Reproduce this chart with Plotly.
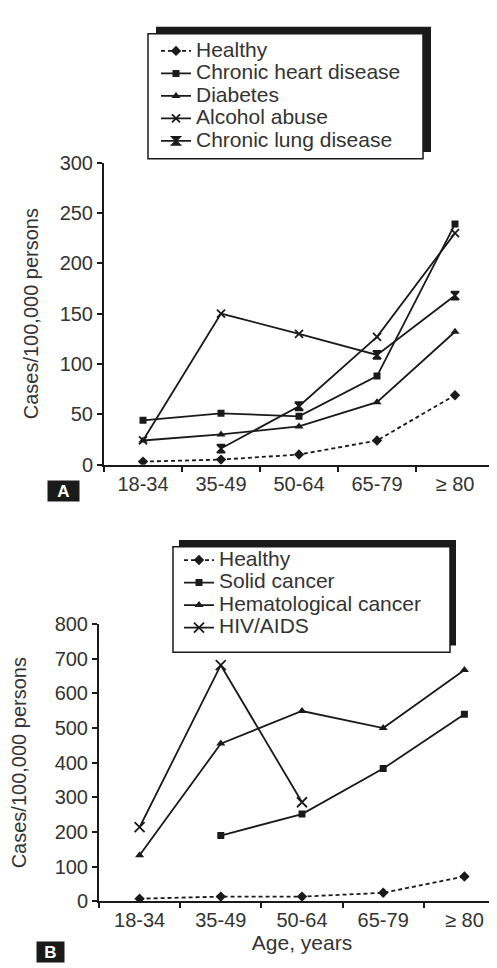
import plotly.graph_objects as go

# ---------------- data ----------------
categories = ["18-34", "35-49", "50-64", "65-79", "\u2265 80"]

# Panel A
healthy_a = [3, 5, 10, 24, 69]
heart_disease = [44, 51, 48, 88, 239]
diabetes = [24, 30, 38, 62, 132]
alcohol_abuse = [24, 150, 130, 109, 168]
lung_disease = [None, 16, 58, 127, 230]

# Panel B
healthy_b = [8, 14, 14, 25, 72]
solid_cancer = [None, 190, 252, 383, 540]
hemato_cancer = [133, 455, 549, 500, 667]
hiv_aids = [214, 681, 286, None, None]

y_ticks_a = [0, 50, 100, 150, 200, 250, 300]
y_ticks_b = [0, 100, 200, 300, 400, 500, 600, 700, 800]

# ---------------- styling ----------------
W, H = 497, 968
FONT = "Liberation Sans, Arial, sans-serif"
TXT = "#333333"
LINE = "#1a1a1a"


def px(x):
    return x / W


def py(y):
    return 1 - y / H


def lab(s):
    return '<span style="font-size:21px">' + s + "</span>"


fig = go.Figure()


def add(x, y, name, symbol, size, xa, ya, leg, dash="solid", lw=1.8, mlw=0):
    fig.add_trace(go.Scatter(
        x=x, y=y, name=lab(name), mode="lines+markers",
        xaxis=xa, yaxis=ya, legend=leg,
        line=dict(color=LINE, width=lw, dash=dash),
        marker=dict(symbol=symbol, size=size, color=LINE,
                    line=dict(color=LINE, width=mlw)),
        connectgaps=False,
    ))


DASH = "4px,3px"
# Panel A traces
add(categories, healthy_a, "Healthy", "diamond", 8, "x", "y", "legend", dash=DASH)
add(categories, heart_disease, "Chronic heart disease", "square", 7, "x", "y", "legend")
add(categories, diabetes, "Diabetes", "triangle-up", 8, "x", "y", "legend")
add(categories, alcohol_abuse, "Alcohol abuse",
    ["x-thin", "x-thin", "x-thin", "hourglass", "hourglass"], 8, "x", "y", "legend", mlw=1.8)
add(categories, lung_disease, "Chronic lung disease",
    ["hourglass", "hourglass", "hourglass", "x-thin", "x-thin"], 8, "x", "y", "legend", mlw=1.8)

# Panel B traces
add(categories, healthy_b, "Healthy", "diamond", 8, "x2", "y2", "legend2", dash=DASH)
add(categories, solid_cancer, "Solid cancer", "square", 7, "x2", "y2", "legend2")
add(categories, hemato_cancer, "Hematological cancer", "triangle-up", 8,
    "x2", "y2", "legend2")
add(categories, hiv_aids, "HIV/AIDS", "x-thin", 10, "x2", "y2", "legend2", mlw=1.8)

axis_common = dict(
    showline=True, linecolor=LINE, linewidth=2, ticks="outside",
    ticklen=5, tickwidth=2, tickcolor=LINE, showgrid=False, zeroline=False,
    tickfont=dict(family=FONT, size=20, color=TXT), fixedrange=True,
)

fig.update_layout(
    width=W, height=H, margin=dict(l=0, r=0, t=0, b=0),
    paper_bgcolor="white", plot_bgcolor="white",
    font=dict(family=FONT, color=TXT),
    xaxis=dict(domain=[px(96), px(486)], anchor="y", type="category",
               range=[-0.5, 4.5], tickson="boundaries", **axis_common),
    yaxis=dict(domain=[py(456), py(147)], anchor="x", range=[0, 300],
               tickvals=y_ticks_a, title=dict(text="Cases/100,000 persons",
               font=dict(family=FONT, size=20, color=TXT), standoff=16),
               **axis_common),
    xaxis2=dict(domain=[px(91), px(497)], anchor="y2", type="category",
                range=[-0.5, 4.5], tickson="boundaries",
                title=dict(text="Age, years", font=dict(family=FONT, size=21, color=TXT), standoff=4),
                **axis_common),
    yaxis2=dict(domain=[py(903), py(619)], anchor="x2", range=[0, 800],
                tickvals=y_ticks_b, title=dict(text="Cases/100,000 persons",
                font=dict(family=FONT, size=20, color=TXT), standoff=24),
                **axis_common),
    legend=dict(x=px(148), y=py(16), xanchor="left", yanchor="top",
                bgcolor="rgba(0,0,0,0)", borderwidth=0,
                font=dict(family=FONT, size=15, color=TXT), tracegroupgap=0),
    legend2=dict(x=px(171), y=py(537), xanchor="left", yanchor="top",
                 bgcolor="rgba(0,0,0,0)", borderwidth=0,
                 font=dict(family=FONT, size=15, color=TXT), tracegroupgap=0),
    showlegend=True,
)


# Legend frames with offset shadow (top/right)
def legend_frame(x0, y0, x1, y1, dx, dy):
    fig.add_shape(type="rect", xref="paper", yref="paper",
                  x0=px(x0 + dx), x1=px(x1 + dx), y0=py(y0 - dy), y1=py(y1 - dy),
                  fillcolor=LINE, line=dict(width=0), layer="above")
    fig.add_shape(type="rect", xref="paper", yref="paper",
                  x0=px(x0), x1=px(x1), y0=py(y0), y1=py(y1),
                  fillcolor="white", line=dict(color=LINE, width=1.5), layer="above")


legend_frame(140, 15, 415, 143, 8, 7)
legend_frame(165, 540, 442, 648, 6, 7)

# Panel letters
for letter, cx, cy, w in [("A", 55, 483, 31), ("B", 42, 955, 27)]:
    fig.add_annotation(xref="paper", yref="paper", x=px(cx), y=py(cy),
                       xanchor="center", yanchor="middle",
                       text="<b>" + letter + "</b>", showarrow=False,
                       font=dict(family=FONT, size=17, color="white"),
                       bgcolor="#1a1a1a", width=w, height=20, borderpad=0)

fig.write_html("out.html")
